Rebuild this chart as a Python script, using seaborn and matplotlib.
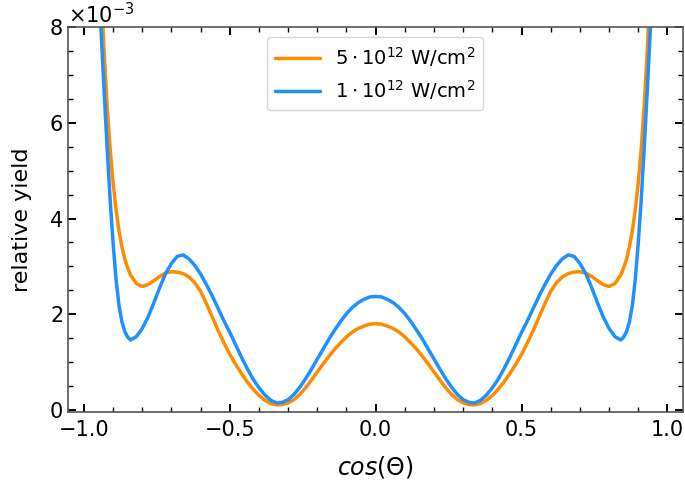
import matplotlib
matplotlib.use("Agg")
import matplotlib.pyplot as plt
from matplotlib.ticker import MultipleLocator
import pandas as pd
import seaborn as sns

# angle grid, cos(Theta)
cos_theta = [
    -0.96, -0.95, -0.94, -0.93, -0.92, -0.91, -0.90, -0.89, -0.88, -0.87, -0.86, -0.85,
    -0.84, -0.82, -0.80, -0.78, -0.76, -0.74, -0.72, -0.70, -0.68, -0.66, -0.64, -0.62,
    -0.60, -0.58, -0.56, -0.54, -0.52, -0.50, -0.48, -0.46, -0.44, -0.42, -0.40, -0.38,
    -0.36, -0.34, -0.32, -0.30, -0.28, -0.26, -0.24, -0.22, -0.20, -0.18, -0.16, -0.14,
    -0.12, -0.10, -0.08, -0.06, -0.04, -0.02, 0.00,
    0.02, 0.04, 0.06, 0.08, 0.10, 0.12, 0.14, 0.16, 0.18, 0.20, 0.22, 0.24,
    0.26, 0.28, 0.30, 0.32, 0.34, 0.36, 0.38, 0.40, 0.42, 0.44, 0.46, 0.48,
    0.50, 0.52, 0.54, 0.56, 0.58, 0.60, 0.62, 0.64, 0.66, 0.68, 0.70, 0.72,
    0.74, 0.76, 0.78, 0.80, 0.82, 0.84, 0.85, 0.86, 0.87, 0.88, 0.89, 0.90,
    0.91, 0.92, 0.93, 0.94, 0.95, 0.96,
]

# relative yield in units of 1e-3
yield_5e12 = [
    11.9, 10.2, 8.70, 7.42, 6.34, 5.46, 4.76, 4.20, 3.76, 3.42, 3.16, 2.97,
    2.82, 2.64, 2.58, 2.62, 2.70, 2.79, 2.86, 2.89, 2.88, 2.85, 2.78, 2.66,
    2.48, 2.22, 1.94, 1.66, 1.40, 1.16, 0.95, 0.76, 0.58, 0.43, 0.30, 0.20,
    0.13, 0.10, 0.108, 0.145, 0.21, 0.32, 0.46, 0.62, 0.79, 0.96, 1.12, 1.27,
    1.40, 1.525, 1.625, 1.70, 1.75, 1.79, 1.80,
    1.79, 1.75, 1.70, 1.625, 1.525, 1.40, 1.27, 1.12, 0.96, 0.79, 0.62, 0.46,
    0.32, 0.21, 0.145, 0.108, 0.10, 0.13, 0.20, 0.30, 0.43, 0.58, 0.76, 0.95,
    1.16, 1.40, 1.66, 1.94, 2.22, 2.48, 2.66, 2.78, 2.85, 2.88, 2.89, 2.86,
    2.79, 2.70, 2.62, 2.58, 2.64, 2.82, 2.97, 3.16, 3.42, 3.76, 4.20, 4.76,
    5.46, 6.34, 7.42, 8.70, 10.2, 11.9,
]

yield_1e12 = [
    10.5, 9.10, 7.80, 6.60, 5.45, 4.40, 3.50, 2.75, 2.20, 1.85, 1.64, 1.52,
    1.46, 1.53, 1.70, 1.94, 2.24, 2.56, 2.85, 3.06, 3.21, 3.24, 3.16, 3.02,
    2.84, 2.62, 2.38, 2.12, 1.86, 1.62, 1.36, 1.10, 0.86, 0.64, 0.46, 0.31,
    0.20, 0.14, 0.155, 0.21, 0.32, 0.47, 0.65, 0.85, 1.06, 1.27, 1.48, 1.67,
    1.85, 2.01, 2.14, 2.24, 2.31, 2.36, 2.37,
    2.36, 2.31, 2.24, 2.14, 2.01, 1.85, 1.67, 1.48, 1.27, 1.06, 0.85, 0.65,
    0.47, 0.32, 0.21, 0.155, 0.14, 0.20, 0.31, 0.46, 0.64, 0.86, 1.10, 1.36,
    1.62, 1.86, 2.12, 2.38, 2.62, 2.84, 3.02, 3.16, 3.24, 3.21, 3.06, 2.85,
    2.56, 2.24, 1.94, 1.70, 1.53, 1.46, 1.52, 1.64, 1.85, 2.20, 2.75, 3.50,
    4.40, 5.45, 6.60, 7.80, 9.10, 10.5,
]

series_labels = [r"$5\cdot10^{12}$ W/cm$^2$", r"$1\cdot10^{12}$ W/cm$^2$"]
series_colors = ["darkorange", "dodgerblue"]

sns.set_style("ticks")
plt.rcParams["font.family"] = ["DejaVu Sans"]
plt.rcParams["mathtext.fontset"] = "dejavusans"
plt.rcParams["text.color"] = "black"
plt.rcParams["axes.labelcolor"] = "black"

fig = plt.figure(figsize=(6.85, 4.82), dpi=100)
ax = fig.add_axes([0.099, 0.145, 0.898, 0.798])

for vals, lab, col in zip([yield_5e12, yield_1e12], series_labels, series_colors):
    df = pd.DataFrame({"cos": cos_theta, "y": [v * 1e-3 for v in vals]})
    sns.lineplot(data=df, x="cos", y="y", color=col, lw=2.5, label=lab, ax=ax)

ax.set_xlim(-1.055, 1.053)
ax.set_ylim(-0.05e-3, 8e-3)
ax.xaxis.set_major_locator(MultipleLocator(0.5))
ax.xaxis.set_minor_locator(MultipleLocator(0.1))
ax.yaxis.set_major_locator(MultipleLocator(2e-3))
ax.yaxis.set_minor_locator(MultipleLocator(0.5e-3))
ax.ticklabel_format(axis="y", style="sci", scilimits=(0, 0), useMathText=True)
ax.yaxis.get_offset_text().set_fontsize(15)
ax.yaxis.get_offset_text().set_color("black")

ax.tick_params(which="both", direction="in", top=True, right=True, colors="black",
               labelcolor="black", labelsize=15)
ax.tick_params(axis="x", pad=6)
ax.tick_params(which="major", length=6, width=1.4)
ax.tick_params(which="minor", length=3.5, width=1.0)
for sp in ax.spines.values():
    sp.set_color("#555555")
    sp.set_linewidth(1.2)

ax.set_xlabel(r"$cos(\Theta)$", fontsize=17, labelpad=10)
ax.set_ylabel("relative yield", fontsize=16, labelpad=12)

leg = ax.legend(loc="upper center", fontsize=14, handlelength=2.3, frameon=True)
for t in leg.get_texts():
    t.set_color("black")

fig.savefig("out.png", dpi=100)
